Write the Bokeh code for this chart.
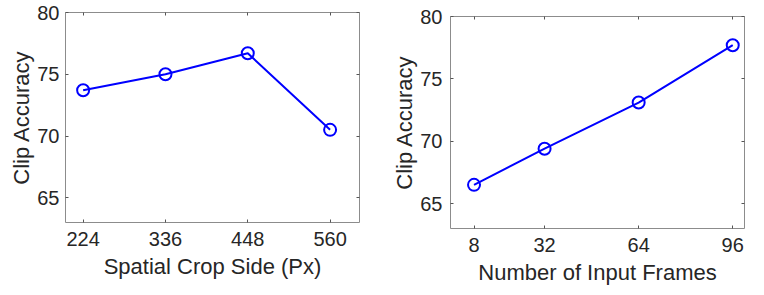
from bokeh.plotting import figure
from bokeh.layouts import row, column
from bokeh.models import Range1d, LinearAxis, FixedTicker, Spacer
from bokeh.embed import file_html
from bokeh.resources import INLINE

# Data
crop_sides = [224, 336, 448, 560]
crop_acc = [73.7, 75.0, 76.7, 70.5]
frames = [8, 32, 64, 96]
frames_acc = [66.5, 69.4, 73.1, 77.7]
y_ticks = [65, 70, 75, 80]

FONT = "Liberation Sans"
TXT = "#262626"
BOX = "#8c8c8c"
BLUE = "#0000ff"


def style(axis, ticks, labels, label=None, label_standoff=4, tick_standoff=8):
    axis.ticker = FixedTicker(ticks=ticks)
    axis.axis_line_color = None
    axis.major_tick_in = 3
    axis.major_tick_out = 0
    axis.minor_tick_line_color = None
    axis.major_tick_line_color = "#555555"
    if labels:
        axis.major_label_text_font = FONT
        axis.major_label_text_font_size = "20px"
        axis.major_label_text_color = TXT
        axis.major_label_standoff = tick_standoff
    else:
        axis.major_label_overrides = {t: "" for t in ticks}
        axis.major_label_text_font_size = "1px"
        axis.major_label_standoff = 0
    if label:
        axis.axis_label = label
        axis.axis_label_text_font = FONT
        axis.axis_label_text_font_size = "22px"
        axis.axis_label_text_font_style = "normal"
        axis.axis_label_text_color = TXT
        axis.axis_label_standoff = label_standoff
    return axis


def make(xs, ys, xr, xlabel, fw, fh, mbl, mbr, mbt, mbb, ystand):
    p = figure(frame_width=fw, frame_height=fh, output_backend="svg", toolbar_location=None,
               x_range=Range1d(*xr), y_range=Range1d(63, 80),
               min_border_left=mbl, min_border_right=mbr,
               min_border_top=mbt, min_border_bottom=mbb,
               x_axis_location=None, y_axis_location=None)
    p.grid.visible = False
    p.outline_line_color = BOX
    p.outline_line_width = 1
    p.background_fill_color = "white"
    p.border_fill_color = "white"

    p.add_layout(style(LinearAxis(), xs, True, xlabel, 5, 9), "below")
    p.add_layout(style(LinearAxis(), xs, False), "above")
    p.add_layout(style(LinearAxis(), y_ticks, True, "Clip Accuracy", 0, ystand), "left")
    p.add_layout(style(LinearAxis(), y_ticks, False), "right")

    p.line(xs, ys, line_color=BLUE, line_width=2)
    p.scatter(xs, ys, marker="circle", size=12, fill_color=None,
              line_color=BLUE, line_width=2)
    return p


p1 = make(crop_sides, crop_acc, (200, 600), "Spatial Crop Side (Px)", 294, 210, 65, 21, 12, 64, 6)
p2 = make(frames, frames_acc, (0, 100), "Number of Input Frames", 294, 212, 70, 12, 12, 58, 8)

layout = row(p1, column(Spacer(width=10, height=4), p2))
open("out.html", "w").write(file_html(layout, INLINE))
